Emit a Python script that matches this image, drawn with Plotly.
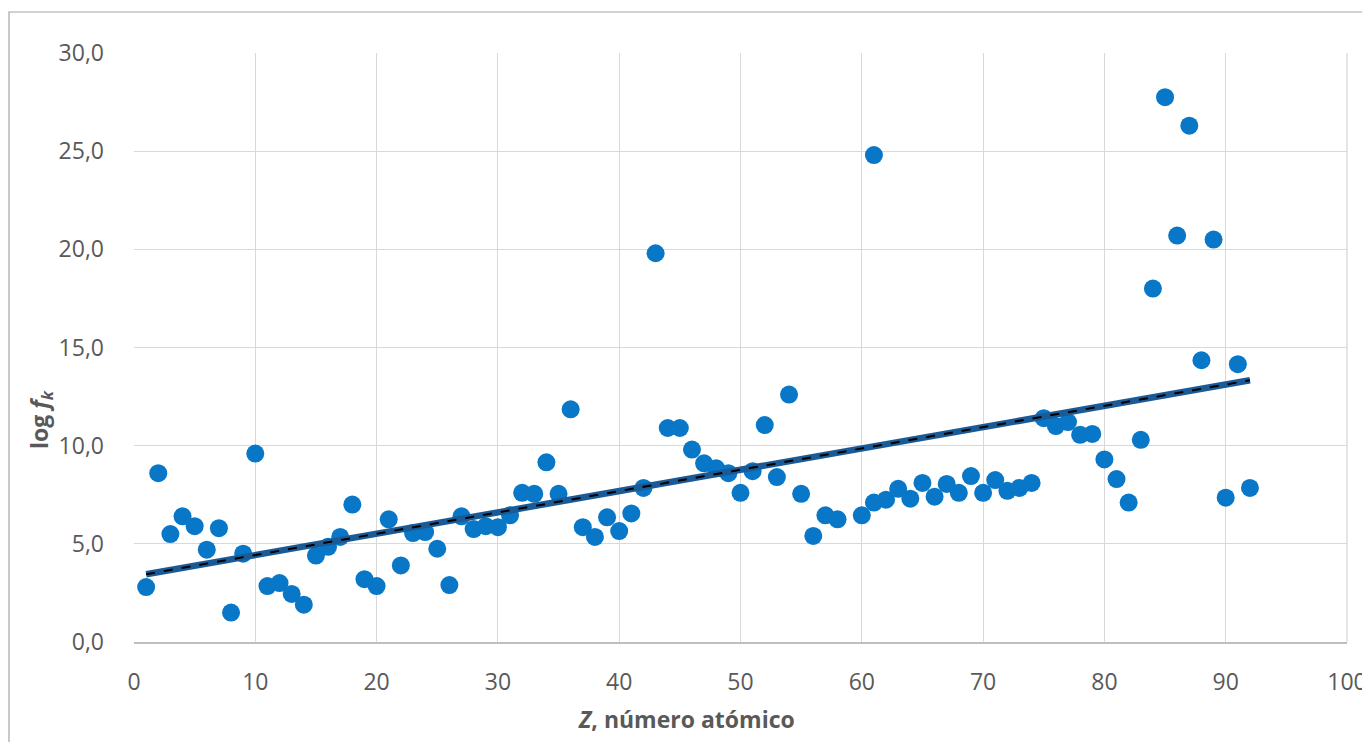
import numpy as np
import plotly.graph_objects as go

# Atomic number Z and log f_k values
z_values = [1, 2, 3, 4, 5, 6, 7, 8, 9, 10,
            11, 12, 13, 14, 15, 16, 17, 18, 19, 20,
            21, 22, 23, 24, 25, 26, 27, 28, 29, 30,
            31, 32, 33, 34, 35, 36, 37, 38, 39, 40,
            41, 42, 43, 44, 45, 46, 47, 48, 49, 50,
            51, 52, 53, 54, 55, 56, 57, 58, 60, 61,
            61, 62, 63, 64, 65, 66, 67, 68, 69, 70,
            71, 72, 73, 74, 75, 76, 77, 78, 79, 80,
            81, 82, 83, 84, 85, 86, 87, 88, 89, 90,
            91, 92]
log_fk = [2.8, 8.6, 5.5, 6.4, 5.9, 4.7, 5.8, 1.5, 4.5, 9.6,
          2.85, 3.0, 2.45, 1.9, 4.4, 4.85, 5.35, 7.0, 3.2, 2.85,
          6.25, 3.9, 5.55, 5.6, 4.75, 2.9, 6.4, 5.75, 5.9, 5.85,
          6.45, 7.6, 7.55, 9.15, 7.55, 11.85, 5.85, 5.35, 6.35, 5.65,
          6.55, 7.85, 19.8, 10.9, 10.9, 9.8, 9.1, 8.85, 8.6, 7.6,
          8.7, 11.05, 8.4, 12.6, 7.55, 5.4, 6.45, 6.25, 6.45, 7.1,
          24.8, 7.25, 7.8, 7.3, 8.1, 7.4, 8.05, 7.6, 8.45, 7.6,
          8.25, 7.7, 7.85, 8.1, 11.4, 11.0, 11.2, 10.55, 10.6, 9.3,
          8.3, 7.1, 10.3, 18.0, 27.75, 20.7, 26.3, 14.35, 20.5, 7.35,
          14.15, 7.85]

x_ticks = [0, 10, 20, 30, 40, 50, 60, 70, 80, 90, 100]
y_ticks = [0, 5, 10, 15, 20, 25, 30]

# Linear trendline (least squares) over the data range
slope, intercept = np.polyfit(z_values, log_fk, 1)
trend_x = [min(z_values), max(z_values)]
trend_y = [slope * v + intercept for v in trend_x]

fig = go.Figure()
fig.add_trace(go.Scatter(
    x=z_values, y=log_fk, mode="markers",
    marker=dict(size=18, color="#0877C7", line=dict(width=0)),
    showlegend=False, hoverinfo="x+y"))
fig.add_trace(go.Scatter(
    x=trend_x, y=trend_y, mode="lines",
    line=dict(color="#1A5A96", width=6.5), showlegend=False, hoverinfo="skip"))
fig.add_trace(go.Scatter(
    x=trend_x, y=trend_y, mode="lines",
    line=dict(color="#000000", width=2, dash="dash"), showlegend=False, hoverinfo="skip"))

# page body has an 8px margin; figure coordinates = page coordinates - 8
OFF = 8
W, H = 1362, 734
L, R, T, B = 126, 23, 45, 100
pw, ph = W - L - R, H - T - B

def px_x(p):
    return (p - OFF - L) / pw

def px_y(p):
    return (H - B - (p - OFF)) / ph

font_family = "Open Sans, Lato, sans-serif"
fig.update_layout(
    width=W, height=H,
    margin=dict(l=L, r=R, t=T, b=B, autoexpand=False),
    paper_bgcolor="white", plot_bgcolor="white",
    separators=",.",
    font=dict(family=font_family, color="#595959", size=23),
    xaxis=dict(range=[0, 100], tickvals=x_ticks, showgrid=True, gridcolor="#D9D9D9",
               gridwidth=1.3, zeroline=False, showline=True, linecolor="#BFBFBF", linewidth=1.5,
               ticks="", ticklabelstandoff=19, mirror=False, automargin=False,
               tickfont=dict(size=23, color="#595959")),
    yaxis=dict(range=[0, 30], tickvals=y_ticks, tickformat=".1f", showgrid=True,
               gridcolor="#D9D9D9", gridwidth=1.3, zeroline=False, showline=False,
               ticks="", ticklabelstandoff=29, automargin=False,
               tickfont=dict(size=23, color="#595959")),
    shapes=[
        dict(type="rect", xref="paper", yref="paper",
             x0=px_x(9), x1=px_x(1365), y0=px_y(12), y1=px_y(760),
             line=dict(color="#A6A6A6", width=1.2), fillcolor="rgba(0,0,0,0)", layer="below"),
        dict(type="line", xref="paper", yref="paper", x0=1, x1=1, y0=0, y1=1,
             line=dict(color="#D9D9D9", width=1.3), layer="below"),
    ],
    annotations=[
        dict(text="<b><i>Z</i>, número atómico</b>", xref="paper", yref="paper",
             x=px_x(686), y=px_y(719), xanchor="center", yanchor="middle",
             showarrow=False, font=dict(size=23, color="#595959", family=font_family)),
        dict(text="<b>log <i>f</i><sub><i>k</i></sub></b>", xref="paper", yref="paper",
             x=px_x(40), y=px_y(420), xanchor="center", yanchor="middle", textangle=-90,
             showarrow=False, font=dict(size=23, color="#595959", family=font_family)),
    ],
)

fig.write_html("out.html")
